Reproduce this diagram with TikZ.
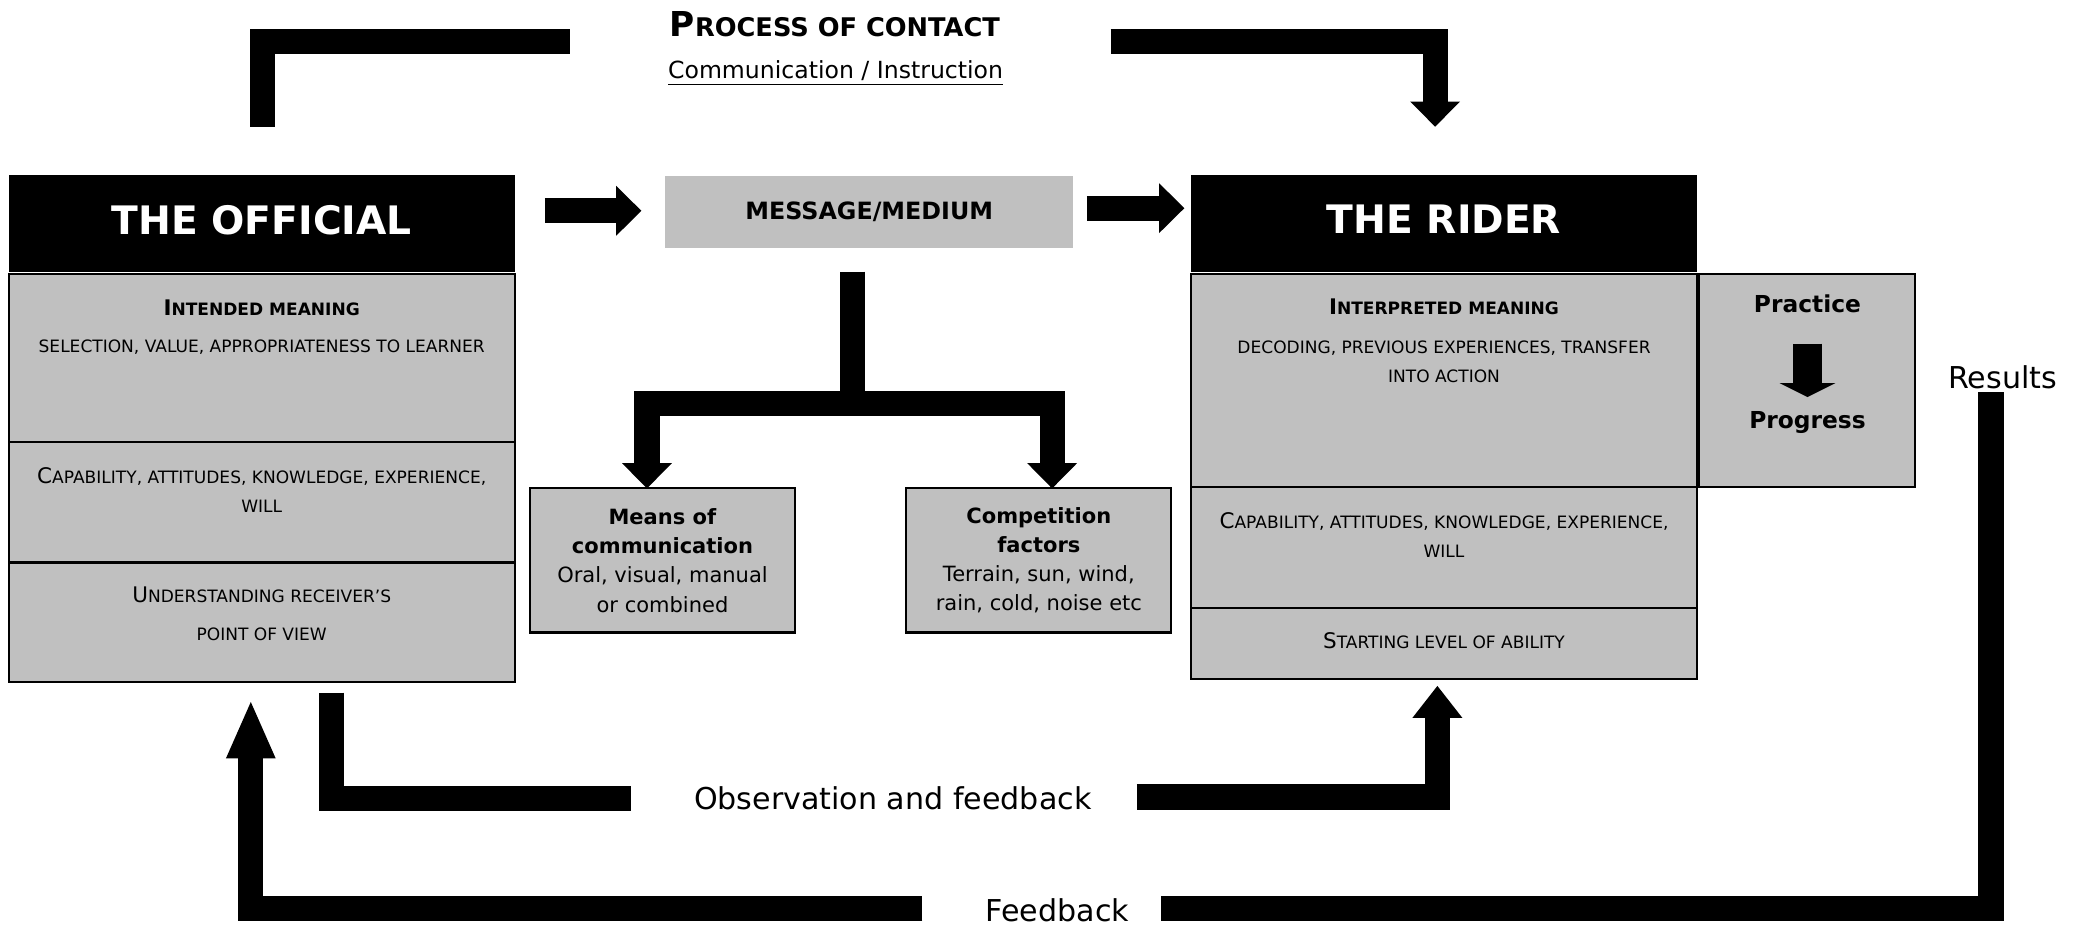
\documentclass[tikz,border=0pt]{standalone}
\usepackage{fontspec}
\setmainfont{DejaVu Sans}
\usetikzlibrary{arrows.meta,calc,positioning}
\definecolor{boxgray}{RGB}{192,192,192}
\newcommand\initcap[2]{{\fontsize{9.2}{12.5}\selectfont #1}#2}

\begin{document}
\begin{tikzpicture}[
    x=0.02cm, y=-0.02cm,
    titlebox/.style={fill=black, text=white, font=\fontsize{16.8}{20}\selectfont\bfseries, minimum width=7.62cm, minimum height=1.46cm, text depth=0.13cm, inner sep=0pt, outer sep=0pt},
    panel/.style={draw=black, line width=0.9pt, fill=boxgray, minimum width=7.62cm, inner sep=0pt, outer sep=0pt},
    note/.style={align=center, inner sep=0pt, font=\fontsize{7.3}{12.5}\selectfont},
    sidebox/.style={panel, minimum width=3.99cm, minimum height=2.17cm, align=center, font=\fontsize{9}{12.5}\selectfont},
    bigtext/.style={inner sep=0pt, font=\fontsize{12.9}{15}\selectfont},
    bar/.style={line width=0.38cm, line cap=butt, line join=miter},
    barhead/.style={bar, -{Triangle[width=0.75cm, length=#1, line width=0pt]}},
    barhead/.default=0.38cm
  ]
  \useasboundingbox (0,0) rectangle (1568,699);

  % heading
  \node[inner sep=0pt, font=\fontsize{14.7}{16}\selectfont\bfseries] (title) at (628.5,18.5) {P{\fontsize{11}{13}\selectfont ROCESS OF CONTACT}};
  \node[inner sep=0pt, font=\fontsize{10.1}{12}\selectfont] (subtitle) at (629,55) {\underline{Communication / Instruction}};

  % the official
  \node[titlebox] (offhead) at (197,168.5) {THE OFFICIAL};
  \node[panel, minimum height=2.52cm, below=0.03cm of offhead] (offmean) {};
  \node[panel, minimum height=1.82cm, below=0pt of offmean] (offcap) {};
  \node[panel, minimum height=1.8cm, below=0pt of offcap] (offview) {};
  \node[note] (offmeantxt) at (197,246) {\textbf{\initcap{I}{NTENDED MEANING}}\\[3.4pt]SELECTION, VALUE, APPROPRIATENESS TO LEARNER};
  \node[note] (offcaptxt) at (197,369) {\initcap{C}{APABILITY, ATTITUDES, KNOWLEDGE, EXPERIENCE,}\\WILL};
  \node[note] (offviewtxt) at (197,462) {\initcap{U}{NDERSTANDING RECEIVER’S}\\[3.4pt]POINT OF VIEW};

  % message
  \node[fill=boxgray, minimum width=6.15cm, minimum height=1.09cm, inner sep=0pt, font=\fontsize{10.2}{12}\selectfont\bfseries] (msg) at (654.3,159.7) {MESSAGE/MEDIUM};
  \node[sidebox] (means) at (498.7,421.9) {\textbf{Means of}\\\textbf{communication}\\Oral, visual, manual\\or combined};
  \node[sidebox] (comp) at (782,421.9) {\textbf{Competition}\\\textbf{factors}\\Terrain, sun, wind,\\rain, cold, noise etc};

  % the rider
  \node[titlebox] (ridhead) at (1087,168.5) {THE RIDER};
  \node[panel, minimum height=3.2cm, below=0.03cm of ridhead] (ridmean) {};
  \node[panel, minimum height=1.82cm, below=0pt of ridmean] (ridcap) {};
  \node[panel, minimum height=1.08cm, below=0pt of ridcap] (ridstart) {};
  \node[note] (ridmeantxt) at (1087,256.5) {\textbf{\initcap{I}{NTERPRETED MEANING}}\\[3.9pt]DECODING, PREVIOUS EXPERIENCES, TRANSFER\\INTO ACTION};
  \node[note] (ridcaptxt) at (1087,403) {\initcap{C}{APABILITY, ATTITUDES, KNOWLEDGE, EXPERIENCE,}\\WILL};
  \node[note] (ridstarttxt) at (1087,482) {\initcap{S}{TARTING LEVEL OF ABILITY}};

  \node[panel, minimum width=3.25cm, minimum height=3.2cm, right=0.03cm of ridmean] (prac) {};
  \node[inner sep=0pt, font=\fontsize{10}{12}\selectfont\bfseries] (practxt) at (1360.6,229) {Practice};
  \node[inner sep=0pt, font=\fontsize{10}{12}\selectfont\bfseries] (progtxt) at (1360.6,318) {Progress};
  \draw[bar, line width=0.44cm, -{Triangle[width=0.84cm, length=0.21cm, line width=0pt]}, shorten <=0.45cm, shorten >=0.21cm] (practxt) -- (progtxt);

  % loop labels
  \node[bigtext] (results) at (1507.5,284) {Results};
  \node[bigtext] (obs) at (672,601) {Observation and feedback};
  \node[bigtext] (fb) at (796,685) {Feedback};

  % process of contact
  \coordinate (tlend) at (428.8,31);
  \coordinate (trstart) at (836,31);
  \draw[bar] ($(offhead.north)+(0.5,-36.6)$) |- (tlend);
  \draw[barhead] (trstart) -| ($(ridhead.north)+(-6.7,-36.6)$);

  \draw[barhead] ($(offhead.east |- msg.west)+(22.7,-1)$) -- ($(msg.west)+(-17.4,-1)$);
  \draw[barhead] ($(msg.east)+(9.7,-3)$) -- ($(ridhead.west |- msg.east)+(-5,-3)$);

  % message splits
  \coordinate (fork) at (642,304);
  \draw[bar] ($(msg.south)+(-12.3,17.1)$) -- (fork);
  \draw[barhead] (fork) -| ($(means.north)+(-11.7,0)$);
  \draw[barhead] (fork) -| ($(comp.north)+(10,0)$);

  % observation and feedback
  \coordinate (obsl) at (475.2,601.2);
  \coordinate (obsr) at (855.8,600);
  \draw[bar] ($(offview.south)+(52.5,8)$) |- (obsl);
  \draw[barhead=0.48cm] (obsr) -| ($(ridstart.south)+(-5,4.9)$);

  % results and feedback
  \coordinate (fbr) at (873.7,683.6);
  \coordinate (fbl) at (694.4,683.6);
  \draw[bar] ($(results.south)+(-8.8,2.2)$) |- (fbr);
  \draw[barhead=0.85cm] (fbl) -| ($(offview.south)+(-8.2,15)$);
\end{tikzpicture}
\end{document}
